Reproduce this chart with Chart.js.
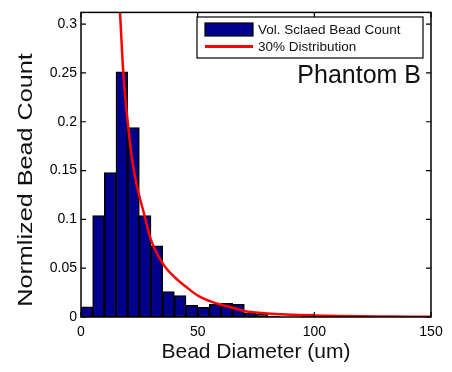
<!DOCTYPE html>
<html><head><meta charset="utf-8">
<script src="https://cdn.jsdelivr.net/npm/chart.js@4/dist/chart.umd.min.js"></script>
<style>html,body{margin:0;padding:0;background:#fff;}canvas{display:block;}</style>
</head><body>
<canvas id="c" width="452" height="372"></canvas>
<script>
const binCenters = [2.5,7.5,12.5,17.5,22.5,27.5,32.5,37.5,42.5,47.5,52.5,57.5,62.5,67.5,72.5,77.5,82.5,87.5,92.5,97.5,102.5,107.5,112.5,117.5,122.5,127.5,132.5,137.5,142.5,147.5];
const beadCounts = [0.0105,0.104,0.148,0.251,0.194,0.104,0.073,0.026,0.022,0.012,0.010,0.013,0.014,0.013,0.004,0.003,0.001,0,0,0.003,0,0,0,0,0,0,0,0,0,0];
const curveX = [15,16.7,18,20,22,24,27,30,35,40,45,50,55,60,65,70,80,90,100,110,120,130,140,150];
const curveY = [0.36,0.312,0.255,0.200,0.160,0.134,0.106,0.079,0.055,0.041,0.031,0.022,0.0165,0.0125,0.0095,0.0062,0.0035,0.0023,0.0015,0.001,0.0007,0.0005,0.0003,0.0002];
const xTicks = [0,50,100,150];
const yTicks = [0,0.05,0.1,0.15,0.2,0.25,0.3];
const seriesLabels = ['Vol. Sclaed Bead Count','30% Distribution'];
const xTitle = 'Bead Diameter (um)';
const yTitle = 'Normlized Bead Count';
const note = 'Phantom B';

const FONT = '"Liberation Sans", Arial, sans-serif';
const barFill = 'rgb(0,0,140)';
const lineColor = 'rgb(255,0,0)';

const decor = {
  id: 'decor',
  afterDatasetsDraw(chart) {
    const {ctx, chartArea: a, scales: {x, y}} = chart;
    ctx.save();
    ctx.strokeStyle = '#000';
    ctx.lineWidth = 1.5;
    ctx.strokeRect(a.left, a.top, a.right - a.left, a.bottom - a.top);
    ctx.lineWidth = 1.2;
    ctx.beginPath();
    xTicks.forEach(v => {
      const p = x.getPixelForValue(v);
      ctx.moveTo(p, a.bottom); ctx.lineTo(p, a.bottom - 5);
      ctx.moveTo(p, a.top); ctx.lineTo(p, a.top + 5);
    });
    yTicks.forEach(v => {
      const p = y.getPixelForValue(v);
      ctx.moveTo(a.left, p); ctx.lineTo(a.left + 5, p);
      ctx.moveTo(a.right, p); ctx.lineTo(a.right - 5, p);
    });
    ctx.stroke();

    // legend
    const lx = 197, ly = 17, lw = 226, lh = 41;
    ctx.fillStyle = '#fff';
    ctx.fillRect(lx, ly, lw, lh);
    ctx.lineWidth = 1.2;
    ctx.strokeStyle = '#000';
    ctx.strokeRect(lx, ly, lw, lh);
    ctx.fillStyle = barFill;
    ctx.fillRect(205, 23, 48, 13);
    ctx.strokeRect(205, 23, 48, 13);
    ctx.strokeStyle = lineColor;
    ctx.lineWidth = 3;
    ctx.beginPath(); ctx.moveTo(205, 46.5); ctx.lineTo(253, 46.5); ctx.stroke();
    ctx.fillStyle = '#111';
    ctx.font = '13.5px ' + FONT;
    ctx.textBaseline = 'middle';
    ctx.textAlign = 'left';
    ctx.fillText(chart.data.datasets[1].label, 258, 30);
    ctx.fillText(chart.data.datasets[0].label, 258, 47);

    // annotation
    ctx.font = '25px ' + FONT;
    ctx.textAlign = 'right';
    ctx.textBaseline = 'alphabetic';
    ctx.fillText(note, 421, 83);

    // axis titles
    ctx.font = '21px ' + FONT;
    ctx.textAlign = 'center';
    ctx.textBaseline = 'middle';
    ctx.fillText(xTitle, (a.left + a.right) / 2, 352);
    ctx.translate(26, 180);
    ctx.rotate(-Math.PI / 2);
    ctx.scale(1.2, 1);
    ctx.fillText(yTitle, 0, 0);
    ctx.restore();
  }
};

new Chart(document.getElementById('c'), {
  data: {
    datasets: [
      {
        type: 'line',
        label: seriesLabels[1],
        data: curveX.map((v, i) => ({x: v, y: curveY[i]})),
        borderColor: lineColor,
        borderWidth: 2.5,
        pointRadius: 0,
        cubicInterpolationMode: 'monotone',
        clip: 0,
        order: 0
      },
      {
        type: 'bar',
        label: seriesLabels[0],
        data: binCenters.map((v, i) => ({x: v, y: beadCounts[i]})),
        backgroundColor: barFill,
        borderColor: '#000',
        borderWidth: 1.5,
        borderSkipped: false,
        barPercentage: 1,
        categoryPercentage: 1,
        order: 1
      }
    ]
  },
  options: {
    responsive: false,
    animation: false,
    devicePixelRatio: 1,
    layout: {padding: {left: 0, right: 21, top: 10, bottom: 0}},
    plugins: {legend: {display: false}, tooltip: {enabled: false}},
    scales: {
      x: {
        type: 'linear', min: 0, max: 150, offset: false,
        grid: {display: false, drawTicks: false},
        border: {display: false},
        afterBuildTicks: s => { s.ticks = xTicks.map(v => ({value: v})); },
        afterFit: s => { s.height = 372 - 317; },
        ticks: {color: '#000', font: {family: FONT, size: 14}, padding: 7, maxRotation: 0}
      },
      y: {
        type: 'linear', min: 0, max: 0.312,
        grid: {display: false, drawTicks: false},
        border: {display: false},
        afterBuildTicks: s => { s.ticks = yTicks.map(v => ({value: v})); },
        afterFit: s => { s.width = 81; },
        ticks: {color: '#000', font: {family: FONT, size: 14}, padding: 4, callback: v => String(v)}
      }
    }
  },
  plugins: [decor]
});
</script>
</body></html>
